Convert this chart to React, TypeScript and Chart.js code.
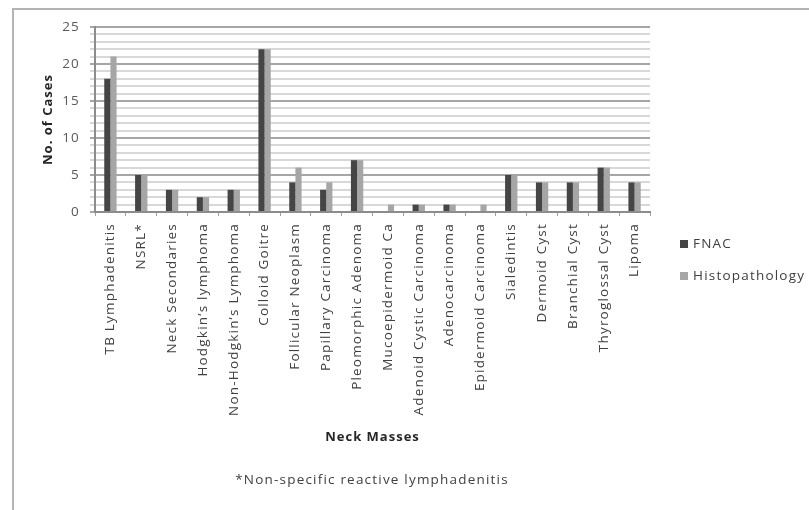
import React, { useEffect, useRef } from "react";
import { Chart, registerables } from "chart.js";

Chart.register(...registerables);

const categories = [
  "TB Lymphadenitis",
  "NSRL*",
  "Neck Secondaries",
  "Hodgkin’s lymphoma",
  "Non-Hodgkin’s Lymphoma",
  "Colloid Goitre",
  "Follicular Neoplasm",
  "Papillary Carcinoma",
  "Pleomorphic Adenoma",
  "Mucoepidermoid Ca",
  "Adenoid Cystic Carcinoma",
  "Adenocarcinoma",
  "Epidermoid Carcinoma",
  "Sialedintis",
  "Dermoid Cyst",
  "Branchial Cyst",
  "Thyroglossal Cyst",
  "Lipoma",
];

const fnacValues = [18, 5, 3, 2, 3, 22, 4, 3, 7, 0, 1, 1, 0, 5, 4, 4, 6, 4];
const histoValues = [21, 5, 3, 2, 3, 22, 6, 4, 7, 1, 1, 1, 1, 5, 4, 4, 6, 4];

const seriesNames = ["FNAC", "Histopathology"];
const seriesColors = ["#454545", "#a6a6a6"];

const yTitle = "No. of Cases";
const xTitle = "Neck Masses";
const footnote = "*Non-specific reactive lymphadenitis";

const FONT = "'Open Sans', 'DejaVu Sans', sans-serif";
const SPACING = "1.2px";

export default function App() {
  const canvasRef = useRef<HTMLCanvasElement | null>(null);

  useEffect(() => {
    const canvas = canvasRef.current;
    if (!canvas) return;

    const textPlugin = {
      id: "extraText",
      beforeDraw(chart: any) {
        (chart.ctx as any).letterSpacing = SPACING;
      },
      afterDraw(chart: any) {
        const { ctx, chartArea } = chart;
        ctx.save();
        (ctx as any).letterSpacing = "1px";
        ctx.fillStyle = "#262626";
        ctx.font = `bold 13px ${FONT}`;
        ctx.textAlign = "center";
        ctx.textBaseline = "middle";
        ctx.translate(48, (chartArea.top + chartArea.bottom) / 2);
        ctx.rotate(-Math.PI / 2);
        ctx.fillText(yTitle, 0, 0);
        ctx.restore();

        ctx.save();
        (ctx as any).letterSpacing = "1px";
        ctx.fillStyle = "#262626";
        ctx.font = `bold 13px ${FONT}`;
        ctx.textAlign = "center";
        ctx.textBaseline = "middle";
        ctx.fillText(xTitle, (chartArea.left + chartArea.right) / 2, 437);
        (ctx as any).letterSpacing = SPACING;
        ctx.font = `13.5px ${FONT}`;
        ctx.fillStyle = "#404040";
        ctx.fillText(footnote, 372, 480);

        const legendY = [244, 276];
        chart.data.datasets.forEach((ds: any, i: number) => {
          ctx.fillStyle = ds.backgroundColor;
          ctx.fillRect(680, legendY[i] - 4, 8, 8);
          ctx.fillStyle = "#404040";
          ctx.font = `13.5px ${FONT}`;
          ctx.textAlign = "left";
          ctx.fillText(ds.label, 693, legendY[i]);
        });
        ctx.restore();
      },
    };

    const chart = new Chart(canvas, {
      type: "bar",
      data: {
        labels: categories,
        datasets: [
          {
            label: seriesNames[0],
            data: fnacValues,
            backgroundColor: seriesColors[0],
            categoryPercentage: 0.4,
            barPercentage: 1.0,
          },
          {
            label: seriesNames[1],
            data: histoValues,
            backgroundColor: seriesColors[1],
            categoryPercentage: 0.4,
            barPercentage: 1.0,
          },
        ],
      },
      options: {
        animation: false,
        responsive: false,
        devicePixelRatio: 1,
        layout: { padding: { top: 27, right: 159, left: 0, bottom: 0 } },
        plugins: {
          legend: { display: false },
          tooltip: { enabled: false },
        },
        scales: {
          x: {
            afterFit: (scale: any) => {
              scale.height = 510 - 212;
            },
            grid: {
              drawOnChartArea: false,
              tickLength: 4,
              color: "#a0a0a0",
            },
            border: { color: "#8c8c8c", width: 2 },
            ticks: {
              autoSkip: false,
              maxRotation: 90,
              minRotation: 90,
              padding: 7,
              color: "#404040",
              font: { family: FONT, size: 13.5 },
            },
          },
          y: {
            min: 0,
            max: 25,
            afterFit: (scale: any) => {
              scale.width = 95;
            },
            grid: {
              color: (ctx: any) =>
                ctx.tick && ctx.tick.value % 5 === 0 ? "#a6a6a6" : "#d8d8d8",
              lineWidth: 2,
              tickLength: 5,
            },
            border: { color: "#8c8c8c", width: 2 },
            ticks: {
              stepSize: 1,
              autoSkip: false,
              padding: 10,
              color: "#595959",
              font: { family: FONT, size: 13.5 },
              callback: (v: any) => (Number(v) % 5 === 0 ? String(v) : ""),
            },
          },
        },
      },
      plugins: [textPlugin],
    });

    return () => chart.destroy();
  }, []);

  return (
    <div
      style={{
        position: "absolute",
        left: 0,
        top: 0,
        width: 809,
        height: 510,
        background: "#fff",
        overflow: "hidden",
      }}
    >
      <div
        style={{
          position: "absolute",
          left: 12,
          top: 8,
          right: 0,
          bottom: 0,
          borderLeft: "2px solid #b4b4b4",
          borderTop: "2px solid #b4b4b4",
        }}
      />
      <canvas
        ref={canvasRef}
        width={809}
        height={510}
        style={{ position: "absolute", left: 0, top: 0, width: 809, height: 510 }}
      />
    </div>
  );
}
